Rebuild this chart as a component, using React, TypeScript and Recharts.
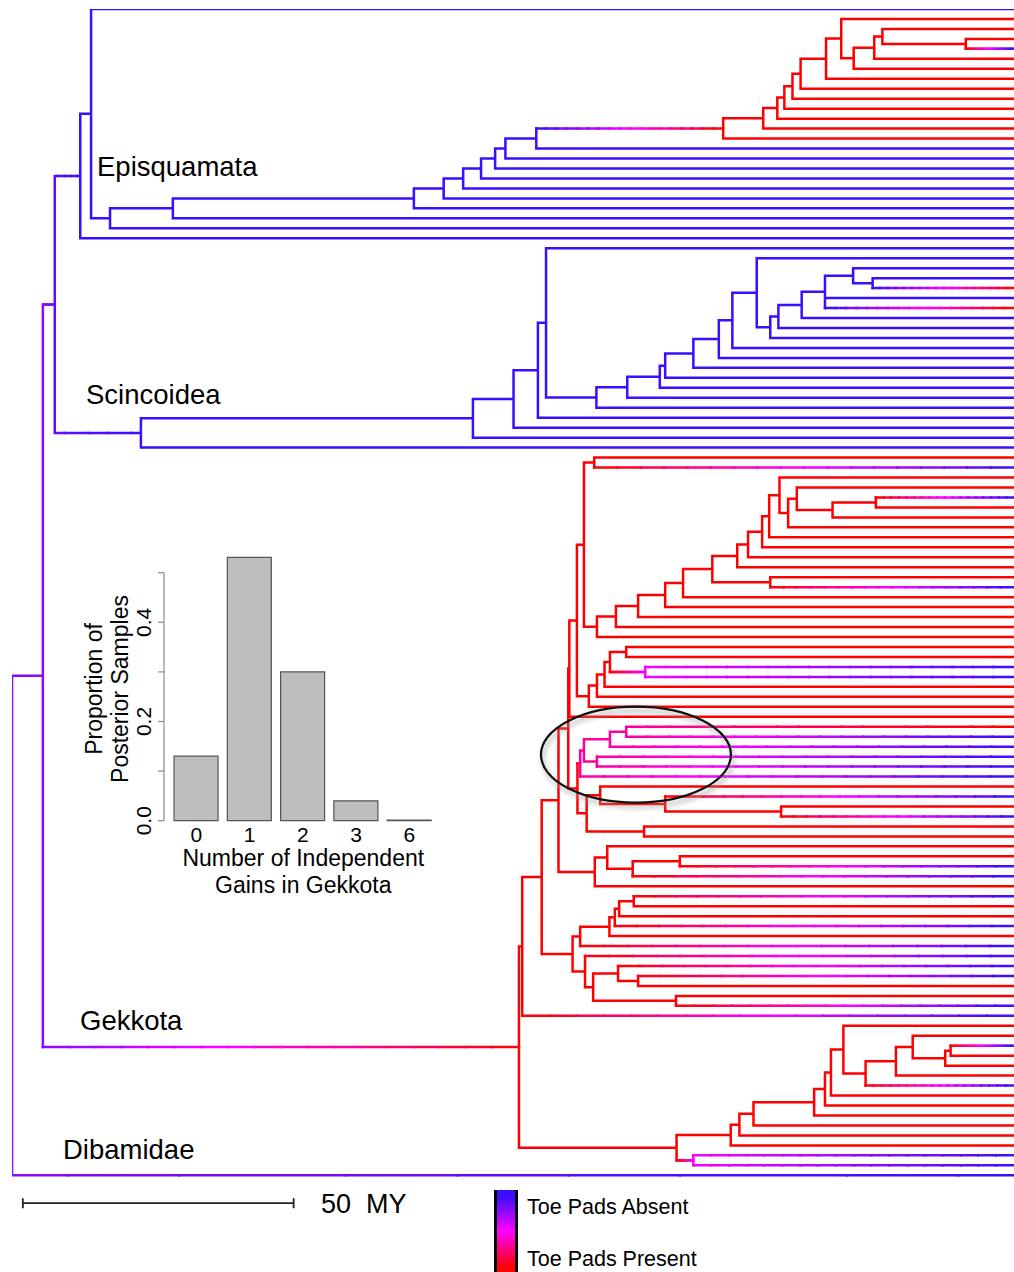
import React from "react";
import { ComposedChart, Line, XAxis, YAxis, ReferenceDot, BarChart, Bar } from "recharts";

// A node is [age from root (MY), state, ...children]; a tip is just its state.
// state: 0 = toe pads present (red), 1 = absent (blue), in between = uncertain
type Tree = number | Tree[];

const TREE_DEPTH = 185; // MY from root to present
const Y_MAX = 126.7; // tip rows incl. room for the scale bar

// ---- Episquamata ----
const episquamataPads: Tree =
  [131.3, 0,
    [138.7, 0,
      [141.3, 0,
        [142.6, 0,
          [144.1, 0,
            [145.6, 0,
              [150.3, 0,
                [153.1, 0, 0,
                  [155.4, 0,
                    [159.2, 0, [160.7, 0, 0, [176.1, 0, 0, 1]], 0],
                    0]],
                0],
              0],
            0],
          0],
        0],
      0],
    0];

const episquamata: Tree =
  [12.6, 1,
    [14.6, 1, 1,
      [18.1, 1,
        [29.7, 1,
          [74.2, 1,
            [79.7, 1,
              [83.3, 1,
                [86.6, 1,
                  [89.2, 1,
                    [91.1, 1,
                      [96.8, 1, episquamataPads, 1],
                      1],
                    1],
                  1],
                1],
              1],
            1],
          1],
        1]],
    1];

// ---- Scincoidea ----
const scincoideaCore: Tree =
  [107.9, 1,
    [113.6, 1,
      [119.6, 1,
        [120.6, 1,
          [125.8, 1,
            [130.5, 1,
              [133.0, 1,
                [137.5, 1, 1,
                  [140.0, 1,
                    [141.5, 1,
                      [145.8, 1,
                        [150.1, 1, [155.3, 1, 1, [158.9, 1, 1, 0]], 1, 0],
                        1],
                      1],
                    1]],
                1],
              1],
            1],
          1],
        1],
      1],
    1];

const scincoidea: Tree =
  [23.8, 1,
    [85.1, 1,
      [92.6, 1,
        [97.1, 1,
          [98.6, 1, 1, scincoideaCore],
          1],
        1],
      1],
    1];

// ---- Gekkota ----
const gekkotaPadsA: Tree =
  [141.7, 0, 0, [143.3, 0, [144.9, 0, 0, [151.5, 0, [159.5, 0, 1, 0], 0]], 0]];

const gekkotaUpper: Tree =
  [105.6, 0,
    [107.5, 0, 0, 1],
    [108.0, 0,
      [111.5, 0,
        [115.6, 0,
          [120.6, 0,
            [123.9, 0,
              [129.3, 0,
                [133.9, 0, [135.9, 0, [138.5, 0, [139.8, 0, gekkotaPadsA, 0], 0], 0], 0],
                [140.0, 0, 0, 1]],
              0],
            0],
          0],
        0],
      0]];

const gekkotaMid: Tree =
  [106.5, 0, [108.0, 0, [109.4, 0, [110.4, 0, [113.4, 0, 0, 0], [116.9, 0.5, 1, 1]], 0], 0], 0];

const gekkotaCircled: Tree =
  [104.9, 0.3, [105.6, 0.3, [110.4, 0.3, [113.4, 0.3, 0, 1], 1], [108.0, 0.3, 1, 1]], 1];

const gekkotaSister: Tree =
  [106.1, 0, [108.6, 0, 0, [120.6, 0, 1, [142.0, 0, 0, 1]]], [116.7, 0, 0, 0]];

const gekkotaFive: Tree =
  [107.6, 0, [109.9, 0, 0, [114.6, 0, [123.3, 0, 0, 1], 1]], 0];

const gekkotaTwelve: Tree =
  [103.5, 0,
    [104.9, 0, [110.3, 0, [111.3, 0, [112.1, 0, [114.8, 0, 1, 0], 0], 1], 0], 1],
    [105.8, 0, 1, [107.3, 0, [111.9, 0, 1, [115.6, 0, 1, 0]], [122.6, 0, 0, 1]]]];

const gekkotaBase: Tree =
  [97.8, 0,
    [100.9, 0,
      [102.7, 0,
        [102.9, 0, [104.3, 0, gekkotaUpper, gekkotaMid], 0],
        [104.4, 0, gekkotaCircled, gekkotaSister]],
      gekkotaFive],
    gekkotaTwelve];

const gekkotaBottom: Tree =
  [122.7, 0,
    [132.7, 0, [134.3, 0, [136.9, 0, [148.1, 0, [150.1, 0, [151.2, 0,
      [153.5, 0, 0, [157.6, 0, [163.2, 0, [166.3, 0, 0, [172.3, 0, [173.3, 0, 1, 0], 0]], 0], 1]],
      0], 0], 0], 0], 0], 0],
    [125.8, 0.5, 1, 1]];

const gekkota: Tree = [93.6, 0, [94.2, 0, gekkotaBase, 1], gekkotaBottom];

// root: (((Episquamata, Scincoidea), Gekkota), Dibamidae)
const squamata: Tree = [0, 0.8, [5.7, 0.8, [7.9, 0.9, episquamata, scincoidea], gekkota], 1];

// circled clade, scale bar
const highlight = { t: 115.2, y: 74.8 };
const scaleBar = { start: 2, length: 50, row: 119.8 };

// ---- inset histogram ----
const gainCounts = ["0", "1", "2", "3", "6"];
const gainProportions = [0.13, 0.531, 0.3, 0.04, 0.001];
const insetTicks = [0, 0.1, 0.2, 0.3, 0.4, 0.5];

// ---------- colours ----------
const RED = [255, 0, 0];
const MAGENTA = [255, 0, 255];
const BLUE = [58, 14, 255];
const mix = (a: number[], b: number[], f: number) => a.map((v, i) => Math.round(v + (b[i] - v) * f));
const stateColor = (p: number) => {
  const c = p <= 0.5 ? mix(RED, MAGENTA, p / 0.5) : mix(MAGENTA, BLUE, (p - 0.5) / 0.5);
  return `rgb(${c.join(",")})`;
};

// ---------- tree layout -> line series ----------
type Pt = { t: number; y: number | null };
const LEVELS = 40;
const buckets = new Map<number, Pt[]>();

function pushSeg(t0: number, y0: number, t1: number, y1: number, p: number) {
  const k = Math.round(p * LEVELS);
  if (!buckets.has(k)) buckets.set(k, []);
  buckets.get(k)!.push({ t: t0, y: y0 }, { t: t1, y: y1 }, { t: t1, y: null });
}

function pushBranch(t0: number, t1: number, y: number, p0: number, p1: number) {
  if (Math.abs(p1 - p0) < 1e-6) {
    pushSeg(t0, y, t1, y, p0);
    return;
  }
  const n = 18;
  for (let k = 0; k < n; k++) {
    const a = t0 + ((t1 - t0) * k) / n;
    const b = t0 + ((t1 - t0) * (k + 1)) / n;
    pushSeg(a, y, b, y, p0 + ((p1 - p0) * (k + 0.5)) / n);
  }
}

let tipRow = 0;
function walk(node: Tree): { y: number; t: number; p: number } {
  if (!Array.isArray(node)) return { y: tipRow++, t: TREE_DEPTH, p: node };
  const [t, p, ...kids] = node as [number, number, ...Tree[]];
  const placed = kids.map(walk);
  const ys = placed.map((c) => c.y);
  const top = Math.min(...ys);
  const bottom = Math.max(...ys);
  pushSeg(t, top, t, bottom, p);
  placed.forEach((c) => pushBranch(t, c.t, c.y, p, c.p));
  return { y: (top + bottom) / 2, t, p };
}
walk(squamata);

const branchSeries = Array.from(buckets.entries())
  .sort((a, b) => a[0] - b[0])
  .map(([k, pts]) => ({ key: k, color: stateColor(k / LEVELS), pts }));

const scaleEnd = scaleBar.start + scaleBar.length;
const scaleBarPts: Pt[] = [
  { t: scaleBar.start, y: scaleBar.row },
  { t: scaleEnd, y: scaleBar.row },
  { t: scaleEnd, y: null },
  { t: scaleBar.start, y: scaleBar.row - 0.5 },
  { t: scaleBar.start, y: scaleBar.row + 0.5 },
  { t: scaleBar.start, y: null },
  { t: scaleEnd, y: scaleBar.row - 0.5 },
  { t: scaleEnd, y: scaleBar.row + 0.5 },
];

const insetData = gainCounts.map((g, i) => ({ gains: g, prop: gainProportions[i] }));

const FONT = "'Liberation Sans', Arial, Helvetica, sans-serif";
const INSET_AXIS_X = 164;
const INSET_BOTTOM = 820.7;
const TENTH_PX = 49.6;

const InsetYTick = (props: any) => {
  const { y, payload } = props;
  const v = payload.value as number;
  const showLabel = Math.round(v * 10) % 2 === 0 && v < 0.5;
  return (
    <g>
      <line x1={INSET_AXIS_X - 6} x2={INSET_AXIS_X} y1={y} y2={y} stroke="#8a8a8a" strokeWidth={1.2} />
      {v < 0.49 && (
        <line x1={INSET_AXIS_X} x2={INSET_AXIS_X} y1={y} y2={y - TENTH_PX} stroke="#8a8a8a" strokeWidth={1.2} />
      )}
      {showLabel && (
        <text
          x={151.5}
          y={y}
          transform={`rotate(-90 151.5 ${y})`}
          textAnchor="middle"
          fontSize={21}
          fontFamily={FONT}
          fill="#000"
        >
          {v.toFixed(1)}
        </text>
      )}
    </g>
  );
};

const InsetXTick = (props: any) => {
  const { x, payload } = props;
  return (
    <text x={x} y={INSET_BOTTOM + 21.5} textAnchor="middle" fontSize={21} fontFamily={FONT} fill="#000">
      {payload.value}
    </text>
  );
};

const HighlightEllipse = (props: any) => {
  const { cx, cy } = props;
  return (
    <g>
      <defs>
        <filter id="ellShadow" x="-20%" y="-20%" width="140%" height="140%">
          <feGaussianBlur stdDeviation="2.5" />
        </filter>
      </defs>
      <ellipse cx={cx + 2} cy={cy + 4} rx={95} ry={48} fill="none" stroke="#999" strokeWidth={3.5} opacity={0.6} filter="url(#ellShadow)" />
      <ellipse cx={cx} cy={cy} rx={95} ry={48} fill="none" stroke="#111" strokeWidth={2.2} />
    </g>
  );
};

export default function App() {
  return (
    <div style={{ position: "absolute", left: 0, top: 0, width: 1014, height: 1272, background: "#fff", overflow: "hidden" }}>
      <div style={{ position: "absolute", left: 0, top: 0 }}>
        <ComposedChart width={1014} height={1272} margin={{ top: 9, right: 0, bottom: 0, left: 12 }}>
          <XAxis type="number" dataKey="t" domain={[0, TREE_DEPTH]} allowDataOverflow hide />
          <YAxis type="number" domain={[0, Y_MAX]} allowDataOverflow reversed hide />
          {branchSeries.map((s) => (
            <Line
              key={s.key}
              data={s.pts}
              dataKey="y"
              type="linear"
              stroke={s.color}
              strokeWidth={2.5}
              strokeLinecap="square"
              dot={false}
              activeDot={false}
              connectNulls={false}
              isAnimationActive={false}
            />
          ))}
          <Line
            data={scaleBarPts}
            dataKey="y"
            type="linear"
            stroke="#222"
            strokeWidth={1.8}
            dot={false}
            activeDot={false}
            connectNulls={false}
            isAnimationActive={false}
          />
          <ReferenceDot x={highlight.t} y={highlight.y} r={0} shape={(p: any) => <HighlightEllipse {...p} />} />
        </ComposedChart>
      </div>

      <div style={{ position: "absolute", left: 0, top: 0 }}>
        <BarChart
          width={1014}
          height={1272}
          data={insetData}
          margin={{ top: 557.3, right: 578, bottom: 421.3, left: 129.6 }}
          barCategoryGap="8.33%"
        >
          <XAxis dataKey="gains" axisLine={false} tickLine={false} height={30} interval={0} tick={(p: any) => <InsetXTick {...p} />} />
          <YAxis
            type="number"
            domain={[0, "dataMax"]}
            ticks={insetTicks}
            interval={0}
            width={40}
            axisLine={false}
            tickLine={false}
            tick={(p: any) => <InsetYTick {...p} />}
          />
          <Bar dataKey="prop" fill="#bebebe" stroke="#555" strokeWidth={1.2} isAnimationActive={false} />
        </BarChart>
      </div>

      <svg
        width={1014}
        height={1272}
        style={{ position: "absolute", left: 0, top: 0, pointerEvents: "none" }}
        fontFamily={FONT}
      >
        <text x={97} y={176} fontSize={27.5}>Episquamata</text>
        <text x={86} y={404} fontSize={27.5}>Scincoidea</text>
        <text x={80} y={1030} fontSize={27.5}>Gekkota</text>
        <text x={63} y={1159} fontSize={27.5}>Dibamidae</text>
        <text x={321} y={1213} fontSize={27}>{"50\u00a0\u00a0MY"}</text>
        <text x={527} y={1214} fontSize={21.5}>Toe Pads Absent</text>
        <text x={527} y={1266} fontSize={21.5}>Toe Pads Present</text>
        <text x={101.5} y={689} transform="rotate(-90 101.5 689)" textAnchor="middle" fontSize={23}>Proportion of</text>
        <text x={128.2} y={689} transform="rotate(-90 128.2 689)" textAnchor="middle" fontSize={23}>Posterior Samples</text>
        <text x={303.3} y={866} textAnchor="middle" fontSize={23}>Number of Independent</text>
        <text x={303.3} y={893} textAnchor="middle" fontSize={23}>Gains in Gekkota</text>
      </svg>

      <div
        style={{
          position: "absolute",
          left: 494,
          top: 1190,
          width: 18,
          height: 82,
          borderLeft: "3px solid #000",
          borderRight: "3px solid #000",
          background: "linear-gradient(to bottom, rgb(58,14,255) 0%, rgb(58,14,255) 8%, rgb(255,0,255) 50%, rgb(255,0,0) 95%)",
        }}
      />
    </div>
  );
}
